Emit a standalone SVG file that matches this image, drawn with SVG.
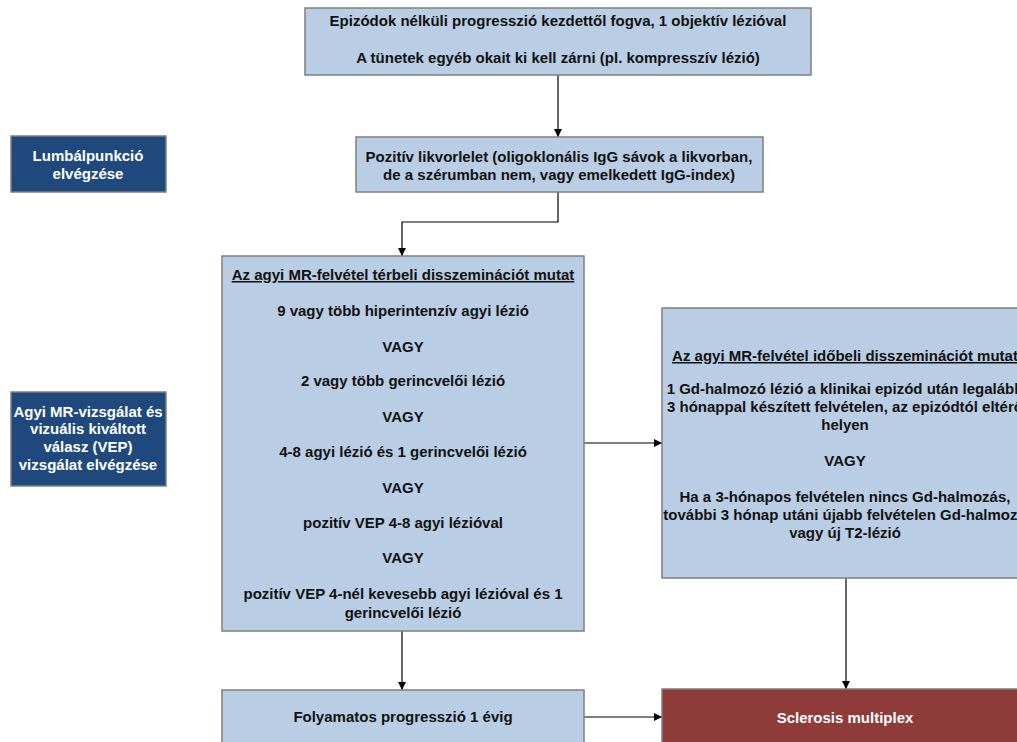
<svg xmlns="http://www.w3.org/2000/svg" width="1017" height="742" viewBox="0 0 1017 742">
  <defs>
    <marker id="arrow" viewBox="0 0 10 10" refX="10" refY="5" markerWidth="8" markerHeight="8" markerUnits="userSpaceOnUse" orient="auto">
      <path d="M0,0 L10,5 L0,10 z" fill="#000"/>
    </marker>
    <style>
      .box { fill: #b9cde5; stroke: #7f7f7f; stroke-width: 1.5; }
      .side { fill: #1f497d; stroke: #7f7f7f; stroke-width: 1.5; }
      .result { fill: #8e3b39; stroke: #7f7f7f; stroke-width: 1.5; }
      .t { font-family: "Liberation Sans", Arial, sans-serif; font-size: 15px; font-weight: bold; fill: #111; text-anchor: middle; }
      .w { fill: #fff; }
      .u { text-decoration: underline; }
      .link { fill: none; stroke: #000; stroke-width: 1.2; marker-end: url(#arrow); }
    </style>
  </defs>

  <rect width="1017" height="742" fill="#fff"/>

  <!-- connectors -->
  <g id="connectors">
    <path class="link" d="M558,75 V137"/>
    <path class="link" d="M558,192 V222 H402 V256"/>
    <path class="link" d="M584,443 H662"/>
    <path class="link" d="M402,631 V690"/>
    <path class="link" d="M846,578 V689"/>
    <path class="link" d="M584,717 H662"/>
  </g>

  <!-- starting condition -->
  <g id="start">
    <rect class="box" x="305" y="8" width="506" height="67"/>
    <text class="t" x="558" y="26">Epizódok nélküli progresszió kezdettől fogva, 1 objektív lézióval</text>
    <text class="t" x="558" y="63">A tünetek egyéb okait ki kell zárni (pl. kompresszív lézió)</text>
  </g>

  <!-- side label: lumbar puncture -->
  <g id="step-lumbal">
    <rect class="side" x="11" y="136" width="155" height="56"/>
    <text class="t w" x="88" y="161">Lumbálpunkció</text>
    <text class="t w" x="88" y="179">elvégzése</text>
  </g>

  <!-- CSF result -->
  <g id="csf">
    <rect class="box" x="356" y="137" width="407" height="55"/>
    <text class="t" x="559" y="162">Pozitív likvorlelet (oligoklonális IgG sávok a likvorban,</text>
    <text class="t" x="559" y="180">de a szérumban nem, vagy emelkedett IgG-index)</text>
  </g>

  <!-- spatial dissemination -->
  <g id="space">
    <rect class="box" x="222" y="256" width="362" height="375"/>
    <text class="t u" x="403" y="280">Az agyi MR-felvétel térbeli disszeminációt mutat</text>
    <text class="t" x="403" y="316">9 vagy több hiperintenzív agyi lézió</text>
    <text class="t" x="403" y="352">VAGY</text>
    <text class="t" x="403" y="386">2 vagy több gerincvelői lézió</text>
    <text class="t" x="403" y="422">VAGY</text>
    <text class="t" x="403" y="457">4-8 agyi lézió és 1 gerincvelői lézió</text>
    <text class="t" x="403" y="493">VAGY</text>
    <text class="t" x="403" y="528">pozitív VEP 4-8 agyi lézióval</text>
    <text class="t" x="403" y="563">VAGY</text>
    <text class="t" x="403" y="599">pozitív VEP 4-nél kevesebb agyi lézióval és 1</text>
    <text class="t" x="403" y="618">gerincvelői lézió</text>
  </g>

  <!-- side label: MRI and VEP -->
  <g id="step-mri">
    <rect class="side" x="11" y="392" width="155" height="94"/>
    <text class="t w" x="88" y="417">Agyi MR-vizsgálat és</text>
    <text class="t w" x="88" y="434">vizuális kiváltott</text>
    <text class="t w" x="88" y="452">válasz (VEP)</text>
    <text class="t w" x="88" y="470">vizsgálat elvégzése</text>
  </g>

  <!-- temporal dissemination -->
  <g id="time">
    <rect class="box" x="662" y="308" width="368" height="270"/>
    <text class="t u" x="845" y="361">Az agyi MR-felvétel időbeli disszeminációt mutat</text>
    <text class="t" x="845" y="394">1 Gd-halmozó lézió a klinikai epizód után legalább</text>
    <text class="t" x="845" y="412">3 hónappal készített felvételen, az epizódtól eltérő</text>
    <text class="t" x="845" y="430">helyen</text>
    <text class="t" x="845" y="466">VAGY</text>
    <text class="t" x="845" y="502">Ha a 3-hónapos felvételen nincs Gd-halmozás,</text>
    <text class="t" x="845" y="520">további 3 hónap utáni újabb felvételen Gd-halmozó</text>
    <text class="t" x="845" y="538">vagy új T2-lézió</text>
  </g>

  <!-- progression -->
  <g id="progression">
    <rect class="box" x="222" y="690" width="362" height="60"/>
    <text class="t" x="403" y="722">Folyamatos progresszió 1 évig</text>
  </g>

  <!-- diagnosis -->
  <g id="diagnosis">
    <rect class="result" x="662" y="689" width="368" height="60"/>
    <text class="t w" x="845" y="723">Sclerosis multiplex</text>
  </g>
</svg>
